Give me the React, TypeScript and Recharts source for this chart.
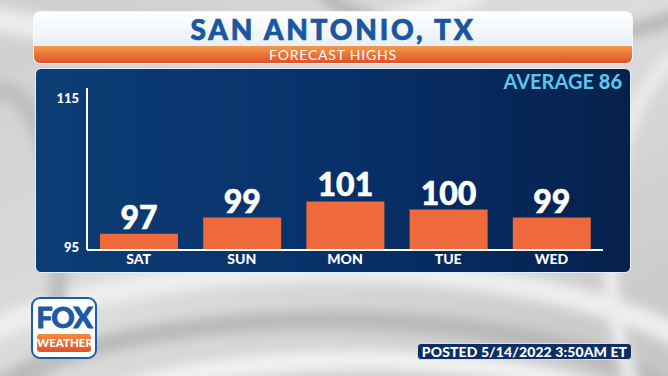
import React from 'react';
import { BarChart, Bar, XAxis, YAxis, LabelList } from 'recharts';

const days = ['SAT', 'SUN', 'MON', 'TUE', 'WED'];
const highs = [97, 99, 101, 100, 99];
const yTicks = [95, 115];
const averageHigh = 86;
const city = 'SAN ANTONIO, TX';
const subtitle = 'FORECAST HIGHS';
const posted = 'POSTED 5/14/2022 3:50AM ET';

const data = days.map((d, i) => ({ day: d, high: highs[i] }));

const FONT = 'Lato, "Open Sans", "DejaVu Sans", sans-serif';

const YTick = (props: any) => {
  const { x, y, payload } = props;
  const isTop = payload.value === yTicks[yTicks.length - 1];
  return (
    <text x={x} y={y} dy={isTop ? 15 : 2} textAnchor="end" fill="#ffffff" fontFamily={FONT} fontWeight={900} fontSize={13}>
      {payload.value}
    </text>
  );
};

const XTick = (props: any) => {
  const { x, y, payload } = props;
  return (
    <text x={x} y={y} dy={8} textAnchor="middle" fill="#ffffff" fontFamily={FONT} fontWeight={900} fontSize={14}>
      {payload.value}
    </text>
  );
};

const Background = () => (
  <svg width={668} height={376} style={{ position: 'absolute', left: 0, top: 0 }}>
    <defs>
      <linearGradient id="bg" x1="0" y1="0" x2="1" y2="1">
        <stop offset="0" stopColor="#cfcfcf" />
        <stop offset="0.5" stopColor="#dcdcdc" />
        <stop offset="1" stopColor="#c6c6c6" />
      </linearGradient>
      <filter id="blur"><feGaussianBlur stdDeviation="6" /></filter>
    </defs>
    <rect width={668} height={376} fill="url(#bg)" />
    <g filter="url(#blur)" fill="none">
      <ellipse cx={330} cy={420} rx={420} ry={150} stroke="#efefef" strokeWidth={22} />
      <ellipse cx={330} cy={430} rx={360} ry={110} stroke="#b8b8b8" strokeWidth={18} />
      <ellipse cx={360} cy={440} rx={300} ry={80} stroke="#f2f2f2" strokeWidth={20} />
      <ellipse cx={200} cy={-40} rx={300} ry={80} stroke="#ececec" strokeWidth={24} />
      <ellipse cx={520} cy={-20} rx={200} ry={60} stroke="#b5b5b5" strokeWidth={14} />
      <ellipse cx={700} cy={250} rx={90} ry={200} stroke="#ededed" strokeWidth={14} />
      <ellipse cx={0} cy={250} rx={60} ry={160} stroke="#bdbdbd" strokeWidth={18} />
    </g>
  </svg>
);

export default function App() {
  return (
    <div style={{ position: 'absolute', left: 0, top: 0, width: 668, height: 376, overflow: 'hidden', fontFamily: FONT }}>
      <Background />
      {/* Title box */}
      <div style={{ position: 'absolute', left: 34, top: 12, width: 598, height: 51, borderRadius: 6, overflow: 'hidden', boxShadow: '0 0 0 1px rgba(255,255,255,0.8)', background: 'linear-gradient(#ffffff, #dce8f2)' }}>
        <div style={{ position: 'absolute', left: 0, top: 1, width: 598, height: 32, textAlign: 'center', lineHeight: '32px', color: '#1b56a0', fontWeight: 900, fontSize: 28, letterSpacing: 2.8, WebkitTextStroke: '0.7px #1b56a0', whiteSpace: 'nowrap' }}>
          {city}
        </div>
        <div style={{ position: 'absolute', left: 0, top: 34, width: 598, height: 17, background: 'linear-gradient(#f59a48, #e0512b)', textAlign: 'center', lineHeight: '17px', color: '#ffffff', fontWeight: 400, fontSize: 14, letterSpacing: 0.8, whiteSpace: 'nowrap' }}>
          {subtitle}
        </div>
      </div>
      {/* Chart panel */}
      <div style={{ position: 'absolute', left: 35, top: 68, width: 594, height: 203, borderRadius: 6, border: '1.5px solid #e6edf5', background: 'linear-gradient(90deg, #0c3d74 0%, #08316a 50%, #05204c 100%)' }} />
      <div style={{ position: 'absolute', left: 495, top: 70, width: 127, textAlign: 'right', color: '#5cc6ea', fontSize: 20, fontWeight: 700, lineHeight: '22px' }}>
        AVERAGE <span style={{ fontWeight: 900 }}>{averageHigh}</span>
      </div>
      <div style={{ position: 'absolute', left: 0, top: 0 }}>
        <BarChart width={668} height={376} data={data} margin={{ top: 88, right: 65, bottom: 96, left: 47 }} barSize={78}>
          <YAxis
            width={40}
            domain={[yTicks[0], yTicks[1]]}
            ticks={yTicks}
            allowDataOverflow
            axisLine={{ stroke: '#ffffff', strokeWidth: 2 }}
            tickLine={false}
            tick={<YTick />}
          />
          <XAxis
            dataKey="day"
            height={30}
            axisLine={{ stroke: '#ffffff', strokeWidth: 2 }}
            tickLine={false}
            tickMargin={0}
            tick={<XTick />}
          />
          <Bar dataKey="high" fill="#ee6a3c" isAnimationActive={false}>
            <LabelList dataKey="high" position="top" offset={5} fill="#ffffff" fontFamily={FONT} fontWeight={900} fontSize={32} stroke="#ffffff" strokeWidth={0.6} />
          </Bar>
        </BarChart>
      </div>
      {/* FOX WEATHER logo */}
      <div style={{ position: 'absolute', left: 31, top: 297, width: 62, height: 58, borderRadius: 9, background: '#ffffff', border: '2px solid #1c5eaa', overflow: 'hidden' }}>
        <div style={{ position: 'absolute', left: 0, top: 3, width: 62, textAlign: 'center', color: '#1b5aa6', fontWeight: 900, fontSize: 29, lineHeight: '30px', letterSpacing: -1, WebkitTextStroke: '0.8px #1b5aa6' }}>FOX</div>
        <div style={{ position: 'absolute', left: 4, top: 35, width: 54, height: 18, borderRadius: 3, background: 'linear-gradient(#f58a3e, #e3512a)', textAlign: 'center', color: '#ffffff', fontWeight: 900, fontSize: 11.5, lineHeight: '18px' }}>WEATHER</div>
      </div>
      {/* Posted box */}
      <div style={{ position: 'absolute', left: 417, top: 343, width: 213, height: 15, borderRadius: 4, background: '#0e2f63', border: '1px solid #d8dde6', textAlign: 'center', color: '#ffffff', fontWeight: 900, fontSize: 14, lineHeight: '15px', letterSpacing: 0.1, whiteSpace: 'nowrap' }}>
        {posted}
      </div>
    </div>
  );
}
